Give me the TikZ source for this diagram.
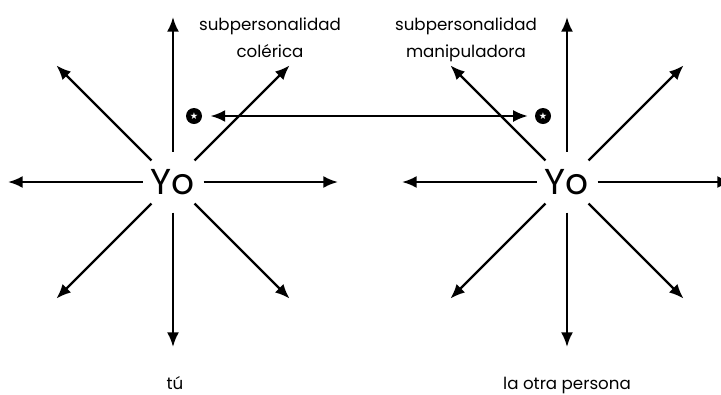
\documentclass[tikz,border=0pt]{standalone}
\usepackage{fontspec}
\setmainfont{Poppins}
\newfontfamily\symfont{DejaVu Sans}
\usetikzlibrary{arrows.meta}

\tikzset{every picture/.style={line width=0.75pt}}
\tikzset{
  yonode/.style={circle, minimum size=45pt, inner sep=0pt, font=\fontsize{27}{30}\selectfont},
  ray/.style={line width=1.8pt, -{Latex[length=11pt,width=9pt]}},
  link/.style={line width=1.8pt, {Latex[length=11pt,width=9pt]}-{Latex[length=11pt,width=9pt]}, shorten <=6pt, shorten >=5pt},
  starmark/.style={circle, fill=black, minimum size=12pt, inner sep=0pt, text=white, font=\symfont\fontsize{7}{7}\selectfont},
  lbl/.style={align=center, anchor=base, inner sep=0.75pt, font=\fontsize{12.5}{20.25}\selectfont}
}

\begin{document}
\begin{tikzpicture}[x=0.75pt,y=0.75pt,yscale=-1,xscale=1]
\useasboundingbox (0,0) rectangle (721,394);

% Text Node
\node[yonode] (yoA) at (173,182) {Yo};
% Text Node
\node[yonode] (yoB) at (567,182) {Yo};

%Straight Lines: eight rays round each Yo
\foreach \s in {yoA,yoB}{
  \foreach \a in {0,45,...,315}{
    \path (\s) ++(\a:165) coordinate (\s-tip\a);
    \draw[ray] (\s) -- (\s-tip\a);
  }
}

%Shape: Circle
\node[starmark] (starA) at (194,116) {★};
%Shape: Circle
\node[starmark] (starB) at (543,116) {★};
%Straight Lines
\draw[link] (starA) -- (starB);

% Text Node (base of the second line)
\node[lbl] (subA) at (270,57) {subpersonalidad\\colérica};
% Text Node (base of the second line)
\node[lbl] (subB) at (466,57) {subpersonalidad\\manipuladora};
% Text Node
\node[lbl] (tuA) at (175,389) {tú};
% Text Node
\node[lbl] (otraB) at (567,389) {la otra persona};

\end{tikzpicture}
\end{document}
